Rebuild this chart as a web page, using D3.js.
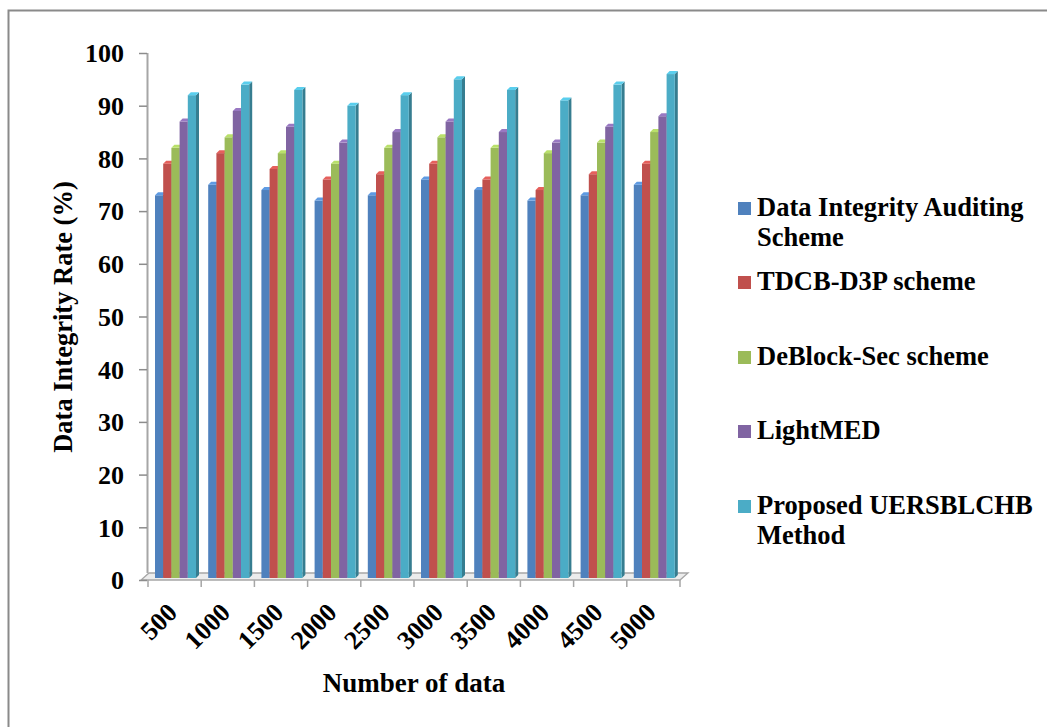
<!DOCTYPE html>
<html>
<head>
<meta charset="utf-8">
<script src="https://cdn.jsdelivr.net/npm/d3@7"></script>
<style>
  html, body { margin: 0; padding: 0; background: #fff; }
  svg { display: block; }
  text { font-family: "Liberation Serif", "Times New Roman", serif; font-weight: bold; fill: #000; }
</style>
</head>
<body>
<svg id="chart" width="1047" height="727"></svg>
<script>
// Number of data records (x categories)
const categories = ["500", "1000", "1500", "2000", "2500", "3000", "3500", "4000", "4500", "5000"];

// Data integrity rate (%) per method
const seriesNames = [
  "Data Integrity Auditing Scheme",
  "TDCB-D3P scheme",
  "DeBlock-Sec scheme",
  "LightMED",
  "Proposed UERSBLCHB Method"
];
const auditing   = [73, 75, 74, 72, 73, 76, 74, 72, 73, 75];
const tdcb       = [79, 81, 78, 76, 77, 79, 76, 74, 77, 79];
const deblock    = [82, 84, 81, 79, 82, 84, 82, 81, 83, 85];
const lightmed   = [87, 89, 86, 83, 85, 87, 85, 83, 86, 88];
const proposed   = [92, 94, 93, 90, 92, 95, 93, 91, 94, 96];
const seriesValues = [auditing, tdcb, deblock, lightmed, proposed];

const colors = ["#4F81BD", "#C0504D", "#9BBB59", "#8064A2", "#4BACC6"];
const yTicks = [0, 10, 20, 30, 40, 50, 60, 70, 80, 90, 100];

// Legend labels, wrapped the way they are laid out
const legendLines = [
  ["Data Integrity Auditing", "Scheme"],
  ["TDCB-D3P scheme"],
  ["DeBlock-Sec scheme"],
  ["LightMED"],
  ["Proposed UERSBLCHB", "Method"]
];

const svg = d3.select("#chart");

// outer frame (right and bottom edges fall outside the view)
svg.append("rect")
  .attr("x", 8.5).attr("y", 10.5)
  .attr("width", 1060).attr("height", 740)
  .attr("fill", "none").attr("stroke", "#8a8a8a").attr("stroke-width", 2);

const plot = { left: 148, right: 680, top: 53, bottom: 580 };
const depthX = 8, depthY = 7; // floor depth of the 3D box

const x = d3.scaleBand().domain(categories).range([plot.left, plot.right]).paddingInner(0).paddingOuter(0);
const inner = d3.scaleBand().domain(d3.range(seriesNames.length)).range([7, 48]).padding(0);
const y = d3.scaleLinear().domain([0, 100]).range([plot.bottom, plot.top]);

// floor of the 3D box
svg.append("path")
  .attr("d", `M${plot.left - 7},${plot.bottom} L${plot.right},${plot.bottom} L${plot.right + depthX},${plot.bottom - depthY} L${plot.left + 1},${plot.bottom - depthY} Z`)
  .attr("fill", "#ececec").attr("stroke", "#a6a6a6").attr("stroke-width", 1.3);

// back wall edge / value axis
svg.append("line")
  .attr("x1", plot.left - 0.5).attr("x2", plot.left - 0.5)
  .attr("y1", y(100)).attr("y2", plot.bottom - depthY)
  .attr("stroke", "#a6a6a6").attr("stroke-width", 2);

// value axis
const yAxis = d3.axisLeft(y).tickValues(yTicks).tickSize(8).tickPadding(15);
const yg = svg.append("g").attr("transform", `translate(${plot.left - 1},0)`).call(yAxis);
yg.select(".domain").remove();
yg.selectAll(".tick line").attr("stroke", "#8c8c8c").attr("stroke-width", 1.5);
yg.selectAll(".tick text").style("font-size", "26px").attr("dy", "0.34em")
  .attr("font-family", null).attr("fill", "#000");

// category axis ticks on the front edge
const xTickPos = categories.map(c => x(c)).concat([plot.right]);
svg.append("g").selectAll("line").data(xTickPos).join("line")
  .attr("x1", d => d).attr("x2", d => d)
  .attr("y1", plot.bottom).attr("y2", plot.bottom + 7)
  .attr("stroke", "#a6a6a6").attr("stroke-width", 1.5);

// category labels, rotated
svg.append("g").selectAll("text").data(categories).join("text")
  .attr("transform", d => `translate(${x(d) + x.bandwidth() / 2 + 4},${plot.bottom + 34}) rotate(-45)`)
  .attr("text-anchor", "end")
  .style("font-size", "26px")
  .text(d => d);

// 3D columns
const sideW = 3, capH = 3;
const bars = svg.append("g");
categories.forEach((cat, ci) => {
  seriesValues.forEach((vals, si) => {
    const v = vals[ci];
    const x0 = x(cat) + inner(si);
    const w = inner.bandwidth();
    const top = y(v);
    const base = plot.bottom - 2;
    const c = d3.color(colors[si]);
    const g = bars.append("g");
    // right side face
    g.append("path")
      .attr("d", `M${x0 + w},${top} L${x0 + w + sideW},${top - capH} L${x0 + w + sideW},${base - capH} L${x0 + w},${base} Z`)
      .attr("fill", c.darker(0.9));
    // front face
    g.append("rect")
      .attr("x", x0).attr("y", top)
      .attr("width", w).attr("height", base - top)
      .attr("fill", colors[si]);
    // top cap
    g.append("path")
      .attr("d", `M${x0},${top} L${x0 + sideW},${top - capH} L${x0 + w + sideW},${top - capH} L${x0 + w},${top} Z`)
      .attr("fill", c.brighter(0.5));
  });
});

// axis titles
svg.append("text")
  .attr("transform", `translate(72,317) rotate(-90)`)
  .attr("text-anchor", "middle")
  .style("font-size", "26.5px")
  .text("Data Integrity Rate (%)");

svg.append("text")
  .attr("x", 414).attr("y", 692)
  .attr("text-anchor", "middle")
  .style("font-size", "27px")
  .text("Number of data");

// legend
const legendY = [216, 290, 365, 439, 514];
const legend = svg.append("g");
legendLines.forEach((lines, i) => {
  legend.append("rect")
    .attr("x", 738).attr("y", legendY[i] - 14)
    .attr("width", 13).attr("height", 13)
    .attr("fill", colors[i]);
  const t = legend.append("text")
    .attr("x", 757).attr("y", legendY[i])
    .style("font-size", "26.5px");
  lines.forEach((ln, k) => {
    t.append("tspan").attr("x", 757).attr("dy", k === 0 ? 0 : 30).text(ln);
  });
});
</script>
</body>
</html>
